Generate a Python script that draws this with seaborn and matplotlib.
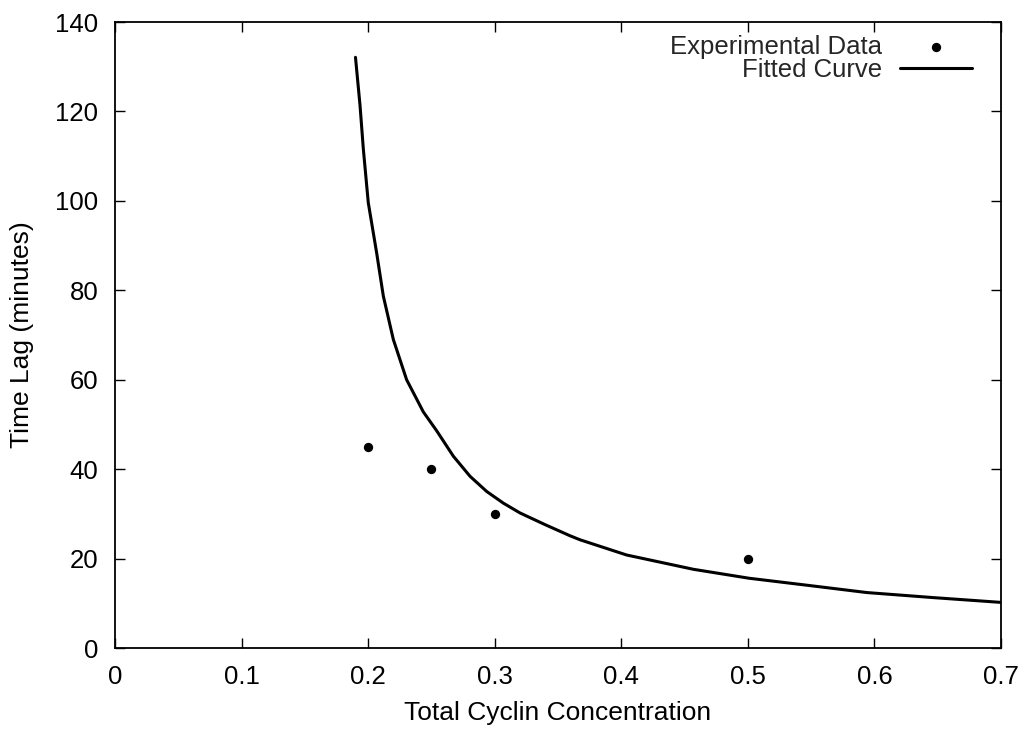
import matplotlib
matplotlib.use("Agg")
import matplotlib.pyplot as plt
import seaborn as sns
import pandas as pd

# Experimental data
exp_x = [0.20, 0.25, 0.30, 0.50]
exp_y = [45, 40, 30, 20]

# Fitted curve
fit_x = [0.190, 0.1936, 0.1962, 0.2001, 0.2067, 0.2120, 0.2199, 0.2304, 0.2436,
         0.2541, 0.2673, 0.2805, 0.2937, 0.3068, 0.3200, 0.3397, 0.3595, 0.3674,
         0.4042, 0.457, 0.501, 0.549, 0.594, 0.6465, 0.700]
fit_y = [132.1, 121.3, 111.6, 99.6, 88.4, 78.7, 69.0, 60.0, 52.8,
         48.6, 42.9, 38.4, 35.0, 32.4, 30.2, 27.6, 25.1, 24.2,
         20.8, 17.6, 15.6, 13.96, 12.4, 11.27, 10.2]

x_ticks = [0, 0.1, 0.2, 0.3, 0.4, 0.5, 0.6, 0.7]
x_tick_labels = ["0", "0.1", "0.2", "0.3", "0.4", "0.5", "0.6", "0.7"]
y_ticks = [0, 20, 40, 60, 80, 100, 120, 140]

sns.set_theme(style="ticks")
plt.rcParams["font.family"] = ["Liberation Sans", "DejaVu Sans"]

df_exp = pd.DataFrame({"x": exp_x, "y": exp_y})
df_fit = pd.DataFrame({"x": fit_x, "y": fit_y})

FS = 18.5
LFS = 19

fig = plt.figure(figsize=(10.24, 7.29), dpi=100)
ax = fig.add_axes([115 / 1024, 1 - 648 / 729, (1001 - 115) / 1024, (648 - 22) / 729])

sns.scatterplot(data=df_exp, x="x", y="y", ax=ax, color="black", s=45,
                edgecolor="black", linewidth=0, label="Experimental Data", zorder=3)
sns.lineplot(data=df_fit, x="x", y="y", ax=ax, color="black", linewidth=2.2,
             label="Fitted Curve", estimator=None, sort=True)

ax.set_xlim(0, 0.7)
ax.set_ylim(0, 140)
ax.set_xticks(x_ticks)
ax.set_xticklabels(x_tick_labels)
ax.set_yticks(y_ticks)
ax.tick_params(direction="in", length=7, width=1.0, top=True, right=True,
               labelsize=FS, colors="black", pad=12)
for s in ax.spines.values():
    s.set_linewidth(1.3)
    s.set_color("black")
    s.set_visible(True)

ax.set_xlabel("Total Cyclin Concentration", fontsize=LFS, labelpad=9, color="black")
ax.set_ylabel("Time Lag (minutes)", fontsize=LFS, labelpad=15, color="black")

leg = ax.legend(loc="upper right", bbox_to_anchor=(0.967, 0.979), frameon=False,
                markerfirst=False, fontsize=FS, handlelength=2.8, handletextpad=0.7,
                labelspacing=-0.03, borderaxespad=0, borderpad=0)

fig.savefig("out.png", dpi=100)
